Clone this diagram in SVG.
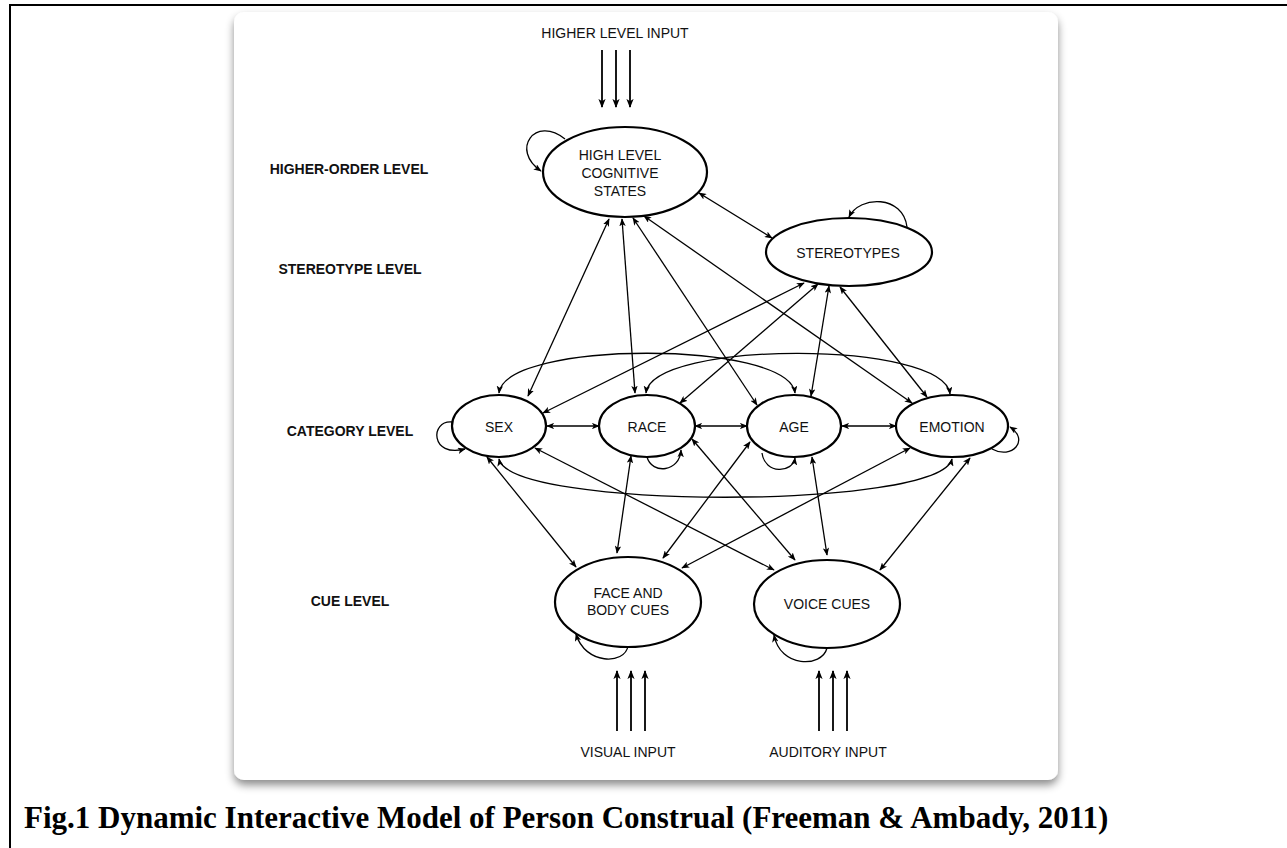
<svg xmlns="http://www.w3.org/2000/svg" width="1287" height="848" viewBox="0 0 1287 848">
<style>
.node ellipse{fill:#fff;stroke:#000;stroke-width:2.2}
.t{font-family:"Liberation Sans",Arial,sans-serif;font-size:14px;fill:#111;text-anchor:middle}
.lv{font-family:"Liberation Sans",Arial,sans-serif;font-size:14px;font-weight:bold;fill:#111;text-anchor:middle}
.e{fill:none;stroke:#000;stroke-width:1.3;marker-start:url(#ah);marker-end:url(#ah)}
.l{fill:none;stroke:#000;stroke-width:1.3;marker-end:url(#ah)}
.in{fill:none;stroke:#000;stroke-width:1.8;marker-end:url(#ab)}
</style>
<defs>
<marker id="ah" viewBox="0 0 10 8" refX="9" refY="4" markerWidth="8" markerHeight="6.4" markerUnits="userSpaceOnUse" orient="auto-start-reverse">
<path d="M0,0 L10,4 L0,8 L2.5,4 z" fill="#000"/>
</marker>
<marker id="ab" viewBox="0 0 10 8" refX="9" refY="4" markerWidth="9" markerHeight="7.2" markerUnits="userSpaceOnUse" orient="auto">
<path d="M0,0 L10,4 L0,8 L2.5,4 z" fill="#000"/>
</marker>
<filter id="sh" x="-5%" y="-5%" width="110%" height="112%">
<feDropShadow dx="0" dy="5" stdDeviation="4" flood-color="#000" flood-opacity="0.45"/>
</filter>
</defs>
<rect x="10" y="5" width="1290" height="860" fill="none" stroke="#000" stroke-width="2"/>
<rect x="234" y="12" width="824" height="768" rx="10" fill="#fff" filter="url(#sh)"/>

<g id="labels">
<text class="lv" x="349" y="174">HIGHER-ORDER LEVEL</text>
<text class="lv" x="350" y="274">STEREOTYPE LEVEL</text>
<text class="lv" x="350" y="436">CATEGORY LEVEL</text>
<text class="lv" x="350" y="606">CUE LEVEL</text>
</g>

<g id="inputs">
<text class="t" x="615" y="38">HIGHER LEVEL INPUT</text>
<line class="in" x1="602" y1="50" x2="602" y2="107"/>
<line class="in" x1="616" y1="50" x2="616" y2="107"/>
<line class="in" x1="630" y1="50" x2="630" y2="107"/>
<line class="in" x1="617" y1="731" x2="617" y2="671"/>
<line class="in" x1="631" y1="731" x2="631" y2="671"/>
<line class="in" x1="645" y1="731" x2="645" y2="671"/>
<line class="in" x1="819" y1="731" x2="819" y2="671"/>
<line class="in" x1="833" y1="731" x2="833" y2="671"/>
<line class="in" x1="847" y1="731" x2="847" y2="671"/>
<text class="t" x="628" y="757">VISUAL INPUT</text>
<text class="t" x="828" y="757">AUDITORY INPUT</text>
</g>

<g id="connectors">
<line class="e" x1="699" y1="193" x2="772" y2="238"/>
<line class="e" x1="609" y1="219" x2="528" y2="396"/>
<line class="e" x1="622" y1="219" x2="635" y2="393"/>
<line class="e" x1="633" y1="218" x2="757" y2="405"/>
<line class="e" x1="644" y1="216" x2="912" y2="403"/>
<line class="e" x1="804" y1="283" x2="543" y2="413"/>
<line class="e" x1="818" y1="284" x2="680" y2="403"/>
<line class="e" x1="829" y1="286" x2="811" y2="396"/>
<line class="e" x1="840" y1="287" x2="927" y2="397"/>
<line class="e" x1="547" y1="426" x2="599" y2="426"/>
<line class="e" x1="695" y1="426" x2="747" y2="426"/>
<line class="e" x1="842" y1="426" x2="896" y2="426"/>
<line class="e" x1="487" y1="457" x2="576" y2="567"/>
<line class="e" x1="535" y1="448" x2="774" y2="570"/>
<line class="e" x1="631" y1="456" x2="617" y2="553"/>
<line class="e" x1="692" y1="439" x2="795" y2="560"/>
<line class="e" x1="750" y1="442" x2="663" y2="558"/>
<line class="e" x1="812" y1="457" x2="827" y2="555"/>
<line class="e" x1="910" y1="448" x2="682" y2="568"/>
<line class="e" x1="970" y1="458" x2="880" y2="570"/>
<path class="e" d="M499,393 C505,340 789,340 795,393"/>
<path class="e" d="M646,393 C652,340 944,340 950,394"/>
<path class="e" d="M499,459 C510,510 940,510 952,459"/>
<path class="l" d="M565,139 C535,115 510,150 541,171"/>
<path class="l" d="M907,227 C903,195 860,195 849,217"/>
<path class="l" d="M452,422 C430,420 430,458 465,449"/>
<path class="l" d="M647,457 C652,475 680,472 681,450"/>
<path class="l" d="M762,453 C765,475 793,473 795,458"/>
<path class="l" d="M992,449 C1012,460 1030,440 1010,427"/>
<path class="l" d="M628,646 C625,665 585,665 576,634"/>
<path class="l" d="M827,648 C822,668 780,668 774,635"/>
</g>

<g id="node-high" class="node">
<ellipse cx="625" cy="172" rx="82" ry="45"/>
<text class="t" x="620" y="160">HIGH LEVEL</text>
<text class="t" x="620" y="178">COGNITIVE</text>
<text class="t" x="620" y="196">STATES</text>
</g>
<g id="node-stereotypes" class="node">
<ellipse cx="849" cy="252" rx="83" ry="34"/>
<text class="t" x="848" y="258">STEREOTYPES</text>
</g>
<g id="node-sex" class="node">
<ellipse cx="499" cy="426" rx="47" ry="31"/>
<text class="t" x="499" y="432">SEX</text>
</g>
<g id="node-race" class="node">
<ellipse cx="647" cy="426" rx="48" ry="31"/>
<text class="t" x="647" y="432">RACE</text>
</g>
<g id="node-age" class="node">
<ellipse cx="794" cy="426" rx="47" ry="31"/>
<text class="t" x="794" y="432">AGE</text>
</g>
<g id="node-emotion" class="node">
<ellipse cx="952" cy="426" rx="56" ry="31"/>
<text class="t" x="952" y="432">EMOTION</text>
</g>
<g id="node-face" class="node">
<ellipse cx="628" cy="602" rx="73" ry="45"/>
<text class="t" x="628" y="598">FACE AND</text>
<text class="t" x="628" y="615">BODY CUES</text>
</g>
<g id="node-voice" class="node">
<ellipse cx="827" cy="604" rx="73" ry="44"/>
<text class="t" x="827" y="609">VOICE CUES</text>
</g>

<text x="24" y="828" font-family="'Liberation Serif','Times New Roman',serif" font-weight="bold" font-size="31" fill="#000">Fig.1 Dynamic Interactive Model of Person Construal (Freeman &amp; Ambady, 2011)</text>
</svg>
